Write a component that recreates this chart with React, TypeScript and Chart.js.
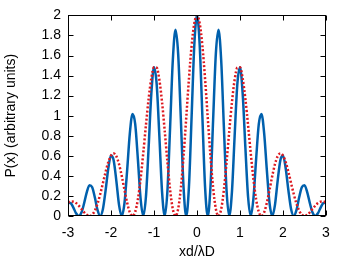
import React, { useEffect, useRef } from "react";
import { Chart, registerables } from "chart.js";

Chart.register(...registerables);

const xs = [
  -3, -2.9375, -2.875, -2.8125, -2.75, -2.6875, -2.625, -2.5625,
  -2.5, -2.4375, -2.375, -2.3125, -2.25, -2.1875, -2.125, -2.0625,
  -2, -1.9375, -1.875, -1.8125, -1.75, -1.6875, -1.625, -1.5625,
  -1.5, -1.4375, -1.375, -1.3125, -1.25, -1.1875, -1.125, -1.0625,
  -1, -0.9375, -0.875, -0.8125, -0.75, -0.6875, -0.625, -0.5625,
  -0.5, -0.4375, -0.375, -0.3125, -0.25, -0.1875, -0.125, -0.0625,
  0,
  0.0625, 0.125, 0.1875, 0.25, 0.3125, 0.375, 0.4375, 0.5,
  0.5625, 0.625, 0.6875, 0.75, 0.8125, 0.875, 0.9375, 1,
  1.0625, 1.125, 1.1875, 1.25, 1.3125, 1.375, 1.4375, 1.5,
  1.5625, 1.625, 1.6875, 1.75, 1.8125, 1.875, 1.9375, 2,
  2.0625, 2.125, 2.1875, 2.25, 2.3125, 2.375, 2.4375, 2.5,
  2.5625, 2.625, 2.6875, 2.75, 2.8125, 2.875, 2.9375, 3,
];

// two-slit pattern (solid blue)
const twoSlit = [
  0.134, 0.128, 0.084, 0.027, 0, 0.034, 0.127, 0.238,
  0.307, 0.287, 0.184, 0.059, 0, 0.070, 0.258, 0.476,
  0.602, 0.554, 0.348, 0.109, 0, 0.125, 0.453, 0.821,
  1.018, 0.918, 0.567, 0.175, 0, 0.192, 0.684, 1.217,
  1.482, 1.312, 0.795, 0.240, 0, 0.254, 0.889, 1.553,
  1.856, 1.612, 0.959, 0.284, 0, 0.290, 0.995, 1.705,
  2.0,
  1.705, 0.995, 0.290, 0, 0.284, 0.959, 1.612, 1.856,
  1.553, 0.889, 0.254, 0, 0.240, 0.795, 1.312, 1.482,
  1.217, 0.684, 0.192, 0, 0.175, 0.567, 0.918, 1.018,
  0.821, 0.453, 0.125, 0, 0.109, 0.348, 0.554, 0.602,
  0.476, 0.258, 0.070, 0, 0.059, 0.184, 0.287, 0.307,
  0.238, 0.127, 0.034, 0, 0.027, 0.084, 0.128, 0.134,
];

// comparison pattern (red dotted)
const comparison = [
  0.134, 0.145, 0.143, 0.129, 0.103, 0.071, 0.037, 0.011,
  0, 0.013, 0.054, 0.124, 0.219, 0.329, 0.440, 0.537,
  0.602, 0.624, 0.595, 0.516, 0.399, 0.263, 0.133, 0.037,
  0, 0.041, 0.166, 0.368, 0.626, 0.906, 1.168, 1.371,
  1.482, 1.478, 1.357, 1.134, 0.845, 0.536, 0.260, 0.069,
  0, 0.072, 0.281, 0.600, 0.981, 1.368, 1.699, 1.922,
  2.0,
  1.922, 1.699, 1.368, 0.981, 0.600, 0.281, 0.072, 0,
  0.069, 0.260, 0.536, 0.845, 1.134, 1.357, 1.478, 1.482,
  1.371, 1.168, 0.906, 0.626, 0.368, 0.166, 0.041, 0,
  0.037, 0.133, 0.263, 0.399, 0.516, 0.595, 0.624, 0.602,
  0.537, 0.440, 0.329, 0.219, 0.124, 0.054, 0.013, 0,
  0.011, 0.037, 0.071, 0.103, 0.129, 0.143, 0.145, 0.134,
];

const xTickLabels = ["-3", "-2", "-1", "0", "1", "2", "3"];
const yTickLabels = ["0", "0.2", "0.4", "0.6", "0.8", "1", "1.2", "1.4", "1.6", "1.8", "2"];

const FONT = "'Liberation Sans', Arial, sans-serif";

const framePlugin = {
  id: "frame",
  afterDatasetsDraw(chart: any) {
    const { ctx, chartArea: a, scales } = chart;
    const L = Math.round(a.left) + 0.5;
    const R = Math.round(a.right) - 0.5;
    const T = Math.round(a.top) + 0.5;
    const B = Math.round(a.bottom) - 0.5;
    const len = 5;
    ctx.save();
    ctx.strokeStyle = "#000";
    ctx.lineWidth = 1;
    ctx.beginPath();
    for (const t of scales.x.ticks) {
      const px = Math.round(scales.x.getPixelForValue(t.value)) + 0.5;
      ctx.moveTo(px, B);
      ctx.lineTo(px, B - len);
      ctx.moveTo(px, T);
      ctx.lineTo(px, T + len);
    }
    for (const t of scales.y.ticks) {
      const py = Math.round(scales.y.getPixelForValue(t.value)) + 0.5;
      ctx.moveTo(L, py);
      ctx.lineTo(L + len, py);
      ctx.moveTo(R, py);
      ctx.lineTo(R - len, py);
    }
    ctx.stroke();
    ctx.strokeRect(L, T, R - L, B - T);
    ctx.restore();
  },
};

export default function App() {
  const ref = useRef<HTMLCanvasElement | null>(null);
  useEffect(() => {
    if (!ref.current) return;
    const chart = new Chart(ref.current, {
      type: "line",
      data: {
        datasets: [
          {
            data: xs.map((x, i) => ({ x, y: comparison[i] })),
            borderColor: "#dd181f",
            borderWidth: 2.5,
            borderDash: [2, 2],
            pointRadius: 0,
            cubicInterpolationMode: "monotone",
            fill: false,
          },
          {
            data: xs.map((x, i) => ({ x, y: twoSlit[i] })),
            borderColor: "#0060ad",
            borderWidth: 2.5,
            pointRadius: 0,
            cubicInterpolationMode: "monotone",
            fill: false,
          },
        ],
      },
      options: {
        animation: false,
        responsive: false,
        maintainAspectRatio: false,
        events: [],
        layout: { padding: { left: 0, top: 15, right: 24, bottom: 0 } },
        plugins: { legend: { display: false }, tooltip: { enabled: false } },
        scales: {
          x: {
            type: "linear",
            min: -3,
            max: 3,
            afterFit: (s: any) => {
              s.height = 45;
            },
            grid: { display: false, drawTicks: false },
            border: { display: false },
            ticks: {
              stepSize: 1,
              padding: 9,
              color: "#000",
              font: { family: FONT, size: 14 },
              callback: (_v: any, i: number) => xTickLabels[i],
            },
            title: {
              display: true,
              text: "xd/λD",
              color: "#000",
              font: { family: FONT, size: 14 },
              padding: { top: 0, bottom: 0 },
            },
          },
          y: {
            min: 0,
            max: 2,
            afterFit: (s: any) => {
              s.width = 68;
            },
            grid: { display: false, drawTicks: false },
            border: { display: false },
            ticks: {
              stepSize: 0.2,
              padding: 7,
              color: "#000",
              font: { family: FONT, size: 14 },
              callback: (_v: any, i: number) => yTickLabels[i],
            },
            title: {
              display: true,
              text: "P(x) (arbitrary units)",
              color: "#000",
              font: { family: FONT, size: 14 },
              padding: { top: 3, bottom: 0 },
            },
          },
        },
      },
      plugins: [framePlugin],
    });
    return () => chart.destroy();
  }, []);
  return (
    <div style={{ position: "absolute", left: 0, top: 0, width: 350, height: 261, background: "#fff" }}>
      <canvas ref={ref} width={350} height={261} style={{ width: 350, height: 261, display: "block" }} />
    </div>
  );
}
